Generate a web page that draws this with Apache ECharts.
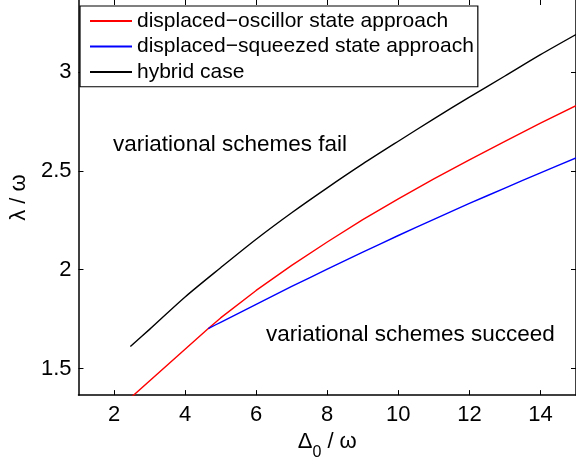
<!DOCTYPE html>
<html>
<head>
<meta charset="utf-8">
<script src="https://cdn.jsdelivr.net/npm/echarts@6/dist/echarts.min.js"></script>
<style>
html,body{margin:0;padding:0;background:#fff;}
#c{width:576px;height:466px;}
</style>
</head>
<body>
<div id="c"></div>
<script>
// ---- data ----
const xTicks = [2, 4, 6, 8, 10, 12, 14];
const yTicks = [1.5, 2, 2.5, 3];

const oscX = [2.5, 4.653, 5, 6, 7, 8, 9, 10, 11, 12, 13, 14, 15];
const oscY = [1.357, 1.702, 1.756, 1.895, 2.022, 2.140, 2.253, 2.358, 2.459, 2.556, 2.649, 2.741, 2.830];

const sqzX = [4.653, 5, 6, 7, 8, 9, 10, 11, 12, 13, 14, 15];
const sqzY = [1.702, 1.734, 1.825, 1.915, 2.003, 2.089, 2.173, 2.255, 2.335, 2.413, 2.490, 2.565];

const hybX = [2.46, 3, 4, 5, 6, 7, 8, 9, 10, 11, 12, 13, 14, 15];
const hybY = [1.611, 1.698, 1.862, 2.010, 2.154, 2.288, 2.414, 2.535, 2.650, 2.763, 2.873, 2.980, 3.088, 3.190];

const seriesNames = ['displaced\u2212oscillor state approach', 'displaced\u2212squeezed state approach', 'hybrid case'];
const noteFail = { text: 'variational schemes fail', x: 1.96, y: 2.631 };
const noteOk = { text: 'variational schemes succeed', x: 6.26, y: 1.669 };

// ---- chart ----
const FONT = '"Liberation Sans", Arial, Helvetica, sans-serif';
const zip = (xs, ys) => xs.map((x, i) => [x, ys[i]]);
const chart = echarts.init(document.getElementById('c'), null, { renderer: 'canvas' });

const axisCommon = {
  type: 'value',
  splitLine: { show: false },
  axisLine: { show: true, lineStyle: { color: '#000', width: 1.5 } },
  axisTick: { show: true, inside: true, length: 5, lineStyle: { color: '#000', width: 1 } }
};

const noteSeries = (n) => ({
  type: 'scatter',
  data: [[n.x, n.y]],
  symbolSize: 1,
  itemStyle: { color: 'rgba(0,0,0,0)' },
  silent: true,
  z: 5,
  label: {
    show: true, position: 'right', distance: 0, formatter: n.text,
    color: '#000', opacity: 1, fontSize: 22.5, fontFamily: FONT
  }
});

chart.setOption({
  animation: false,
  backgroundColor: '#fff',
  grid: { left: 73, right: -2.5, top: -1, bottom: 65, containLabel: false },
  xAxis: [
    Object.assign({}, axisCommon, {
      position: 'bottom', min: 1, max: 15,
      axisTick: Object.assign({}, axisCommon.axisTick, { customValues: xTicks }),
      axisLabel: { customValues: xTicks, color: '#000', fontSize: 22, fontFamily: FONT, margin: 9 },
      name: '{a|\u0394}{s|0}{a| / \u03c9}',
      nameLocation: 'middle', nameGap: 27,
      nameTextStyle: {
        color: '#000', fontFamily: FONT,
        rich: {
          a: { fontSize: 22, fontFamily: FONT, color: '#000', verticalAlign: 'top', lineHeight: 24 },
          s: { fontSize: 16, fontFamily: FONT, color: '#000', verticalAlign: 'bottom', lineHeight: 30 }
        }
      }
    }),
    Object.assign({}, axisCommon, {
      position: 'top', min: 1, max: 15,
      axisLine: { show: false },
      axisTick: Object.assign({}, axisCommon.axisTick, { customValues: xTicks }),
      axisLabel: { show: false }
    })
  ],
  yAxis: [
    Object.assign({}, axisCommon, {
      position: 'left', min: 1.3655, max: 3.3645,
      axisTick: Object.assign({}, axisCommon.axisTick, { customValues: yTicks }),
      axisLabel: { customValues: yTicks, color: '#000', fontSize: 22, fontFamily: FONT, margin: 7 },
      name: '\u03bb / \u03c9',
      nameLocation: 'middle', nameGap: 48, nameRotate: 90,
      nameTextStyle: { color: '#000', fontSize: 22, fontFamily: FONT }
    }),
    Object.assign({}, axisCommon, {
      position: 'right', min: 1.3655, max: 3.3645,
      axisTick: Object.assign({}, axisCommon.axisTick, { customValues: yTicks }),
      axisLabel: { show: false }
    })
  ],
  legend: {
    data: seriesNames,
    orient: 'vertical', left: 80, top: 6,
    padding: [2.25, 4, 2, 9], itemGap: 0, itemWidth: 42, itemHeight: 14,
    itemStyle: { opacity: 0 },
    borderColor: '#000', borderWidth: 1.2, backgroundColor: '#fff', borderRadius: 0,
    textStyle: { color: '#000', fontSize: 21, fontFamily: FONT, lineHeight: 25.5 }
  },
  series: [
    { name: seriesNames[0], type: 'line', data: zip(oscX, oscY), symbol: 'none', clip: true,
      lineStyle: { color: '#ff0000', width: 1.4 }, itemStyle: { color: '#ff0000' } },
    { name: seriesNames[1], type: 'line', data: zip(sqzX, sqzY), symbol: 'none', clip: true, smooth: 0.3,
      lineStyle: { color: '#0000ff', width: 1.4 }, itemStyle: { color: '#0000ff' } },
    { name: seriesNames[2], type: 'line', data: zip(hybX, hybY), symbol: 'none', clip: true, smooth: 0.3,
      lineStyle: { color: '#000000', width: 1.4 }, itemStyle: { color: '#000000' } },
    noteSeries(noteFail),
    noteSeries(noteOk)
  ]
});
</script>
</body>
</html>
